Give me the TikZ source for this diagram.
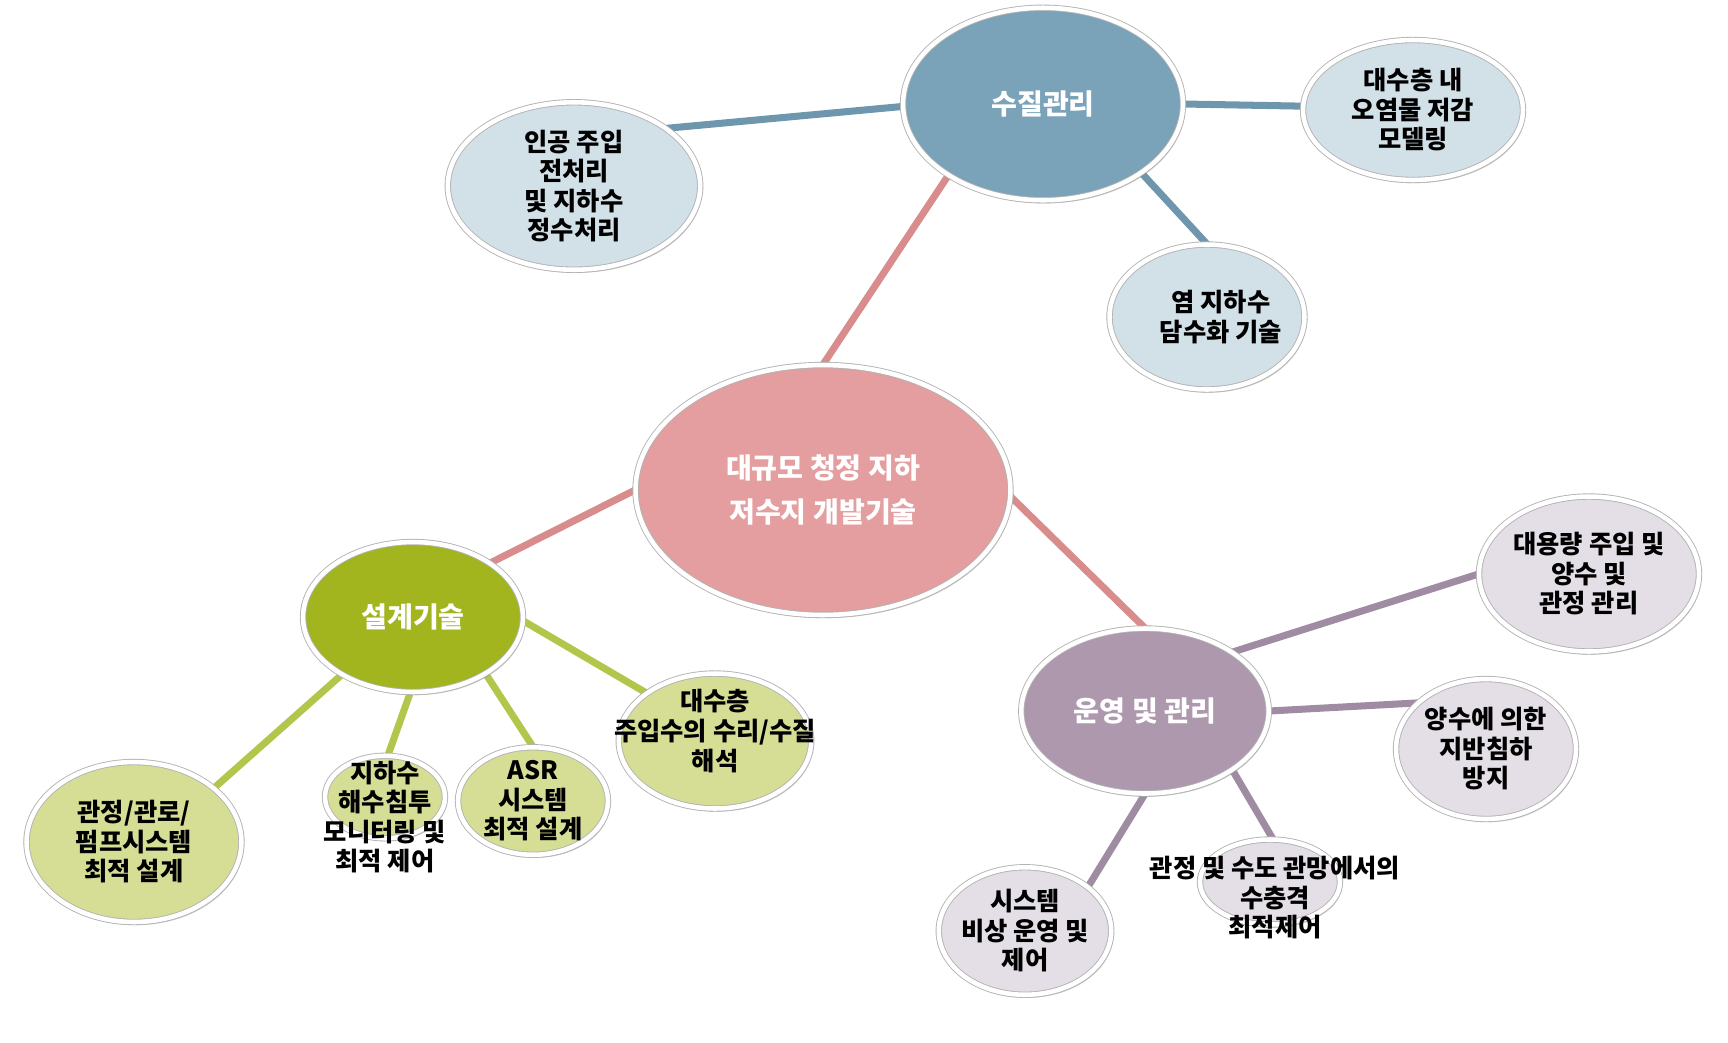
\documentclass[tikz,border=0pt]{standalone}
\usepackage{fontspec}
\setmainfont{Noto Sans CJK KR}
\usetikzlibrary{shapes.geometric,shadows,backgrounds}
\definecolor{hubfill}{RGB}{228,158,159}
\definecolor{waterfill}{RGB}{122,162,184}
\definecolor{designfill}{RGB}{162,181,31}
\definecolor{operfill}{RGB}{173,152,174}
\definecolor{waterkid}{RGB}{210,224,232}
\definecolor{designkid}{RGB}{214,222,150}
\definecolor{operkid}{RGB}{228,222,230}
\definecolor{hubline}{RGB}{217,140,140}
\definecolor{waterline}{RGB}{110,150,172}
\definecolor{designline}{RGB}{178,198,76}
\definecolor{operline}{RGB}{160,140,162}
\tikzset{
	bubble/.style={ellipse, draw=black!30, line width=.5pt, double=white, double distance=2.6pt, inner sep=0pt,
		drop shadow={shadow xshift=1.2pt, shadow yshift=-1.8pt, opacity=.35}},
	maintxt/.style={align=center, text=white, font=\fontsize{16}{25}\selectfont\bfseries},
	kidtxt/.style={align=center, text=black, font=\fontsize{14.4}{16.8}\selectfont\bfseries},
	link/.style={line width=4pt}
}
\begin{document}
\begin{tikzpicture}[x=0.02cm, y=-0.02cm]
		\useasboundingbox (0, 0) rectangle (1728, 1042);
		\node[bubble, fill=hubfill, minimum width=7.5cm, minimum height=5cm,
			label={[maintxt]center:대규모 청정 지하\\저수지 개발기술}] (hub) at (823, 490) {};
		\node[bubble, fill=waterfill, minimum width=5.6cm, minimum height=3.85cm,
			label={[maintxt]center:수질관리}] (water) at (1043, 104) {};
		\node[bubble, fill=designfill, minimum width=4.4cm, minimum height=3cm,
			label={[maintxt]center:설계기술}] (design) at (413, 617) {};
		\node[bubble, fill=operfill, minimum width=4.95cm, minimum height=3.3cm,
			label={[maintxt]center:운영 및 관리}] (operate) at (1145, 711) {};
		\node[bubble, fill=waterkid, minimum width=5.05cm, minimum height=3.35cm,
			label={[kidtxt]center:인공 주입\\전처리\\및 지하수\\정수처리}] (inject) at (574, 186) {};
		\node[bubble, fill=waterkid, minimum width=4.4cm, minimum height=2.8cm,
			label={[kidtxt]center:대수층 내\\오염물 저감\\모델링}] (contam) at (1413, 110) {};
		\node[bubble, fill=waterkid, minimum width=3.9cm, minimum height=2.9cm,
			label={[kidtxt, xshift=.28cm]center:염 지하수\\담수화 기술}] (desal) at (1207, 317) {};
		\node[bubble, fill=designkid, minimum width=4.3cm, minimum height=3.2cm,
			label={[kidtxt]center:관정/관로/\\펌프시스템\\최적 설계}] (well) at (134, 842) {};
		\node[bubble, fill=designkid, minimum width=2.4cm, minimum height=1.65cm,
			label={[kidtxt, yshift=-.4cm]center:지하수\\해수침투\\모니터링 및\\최적 제어}] (seawater) at (385, 797) {};
		\node[bubble, fill=designkid, minimum width=3cm, minimum height=2.15cm,
			label={[kidtxt]center:ASR\\시스템\\최적 설계}] (asr) at (533, 801) {};
		\node[bubble, fill=designkid, minimum width=3.85cm, minimum height=2.7cm,
			label={[kidtxt, yshift=.2cm]center:대수층\\주입수의 수리/수질\\해석}] (aquifer) at (715, 741) {};
		\node[bubble, fill=operkid, minimum width=4.4cm, minimum height=3.1cm,
			label={[kidtxt]center:대용량 주입 및\\양수 및\\관정 관리}] (bulk) at (1589, 574) {};
		\node[bubble, fill=operkid, minimum width=3.6cm, minimum height=2.8cm,
			label={[kidtxt]center:양수에 의한\\지반침하\\방지}] (subsid) at (1486, 749) {};
		\node[bubble, fill=operkid, minimum width=3.45cm, minimum height=2.55cm,
			label={[kidtxt]center:시스템\\비상 운영 및\\제어}] (emerg) at (1025, 931) {};
		\node[bubble, fill=operkid, minimum width=2.8cm, minimum height=1.7cm,
			label={[kidtxt, xshift=.1cm, yshift=-.32cm]center:관정 및 수도 관망에서의\\수충격\\최적제어}] (hammer) at (1270, 882) {};
		\begin{scope}[on background layer]
		\draw[link, hubline] (hub.90)--(water.217);
		\draw[link, hubline] (hub.180)--(design.35);
		\draw[link, hubline] (hub.-2)--(operate.90);
		\draw[link, waterline] (water.181)--(inject.32);
		\draw[link, waterline] (water.0)--(contam.178);
		\draw[link, waterline] (water.-35)--(desal.90);
		\draw[link, designline] (design.219)--(well.34);
		\draw[link, designline] (design.-92)--(seawater.86);
		\draw[link, designline] (design.-38)--(asr.90);
		\draw[link, designline] (design.-2)--(aquifer.145);
		\draw[link, operline] (operate.34)--(bulk.180);
		\draw[link, operline] (operate.0)--(subsid.146);
		\draw[link, operline] (operate.-90)--(emerg.35);
		\draw[link, operline] (operate.-34)--(hammer.86);
		\end{scope}
		\end{tikzpicture}
\end{document}
